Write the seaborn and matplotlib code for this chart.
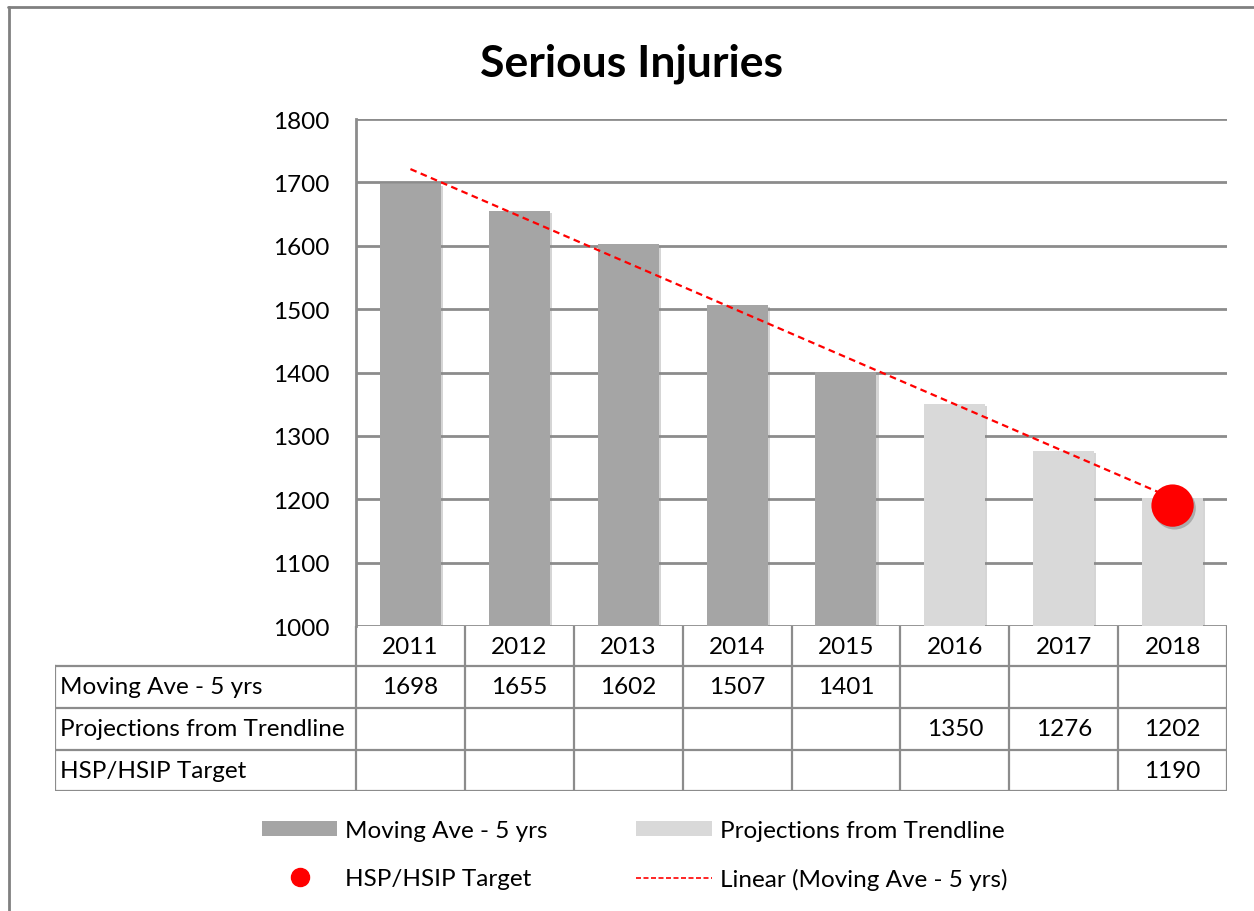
import numpy as np
import pandas as pd
import seaborn as sns
import matplotlib.pyplot as plt
import matplotlib.patheffects as pe
from matplotlib.patches import Patch
from matplotlib.lines import Line2D

# chart values
years = ['2011', '2012', '2013', '2014', '2015', '2016', '2017', '2018']
moving_ave = [1698, 1655, 1602, 1507, 1401]          # 2011-2015
projections = [1350, 1276, 1202]                     # 2016-2018
target_year = '2018'
target_value = 1190
y_ticks = [1000, 1100, 1200, 1300, 1400, 1500, 1600, 1700, 1800]

series_names = ['Moving Ave - 5 yrs', 'Projections from Trendline', 'HSP/HSIP Target']
dark_grey = '#A5A5A5'
light_grey = '#D9D9D9'
line_grey = '#8C8C8C'

sns.set_theme(style='white')
plt.rcParams['font.family'] = ['Lato', 'DejaVu Sans']
plt.rcParams['text.color'] = 'black'
plt.rcParams['ytick.color'] = 'black'

df = pd.DataFrame({
    'year': years,
    'value': moving_ave + projections,
    'series': [series_names[0]] * len(moving_ave) + [series_names[1]] * len(projections),
})

W, H = 1254, 912
fs = 17.5
fig = plt.figure(figsize=(W / 100, H / 100), dpi=100)

# main plot area
ax = fig.add_axes([356 / W, 1 - 627 / H, (1227 - 356) / W, (627 - 120) / H])
sns.barplot(data=df, x='year', y='value', hue='series', dodge=False, width=0.56,
            palette=[dark_grey, light_grey], order=years, legend=False, ax=ax, zorder=2,
            linewidth=0, edgecolor='none')
for p in ax.patches:
    p.set_linewidth(0)
    p.set_path_effects([pe.SimplePatchShadow(offset=(1.5, -1.5), shadow_rgbFace='#888888', alpha=0.35),
                        pe.Normal()])

# linear trendline through the moving average, projected to 2018
pos = np.arange(len(years))
coef = np.polyfit(pos[:len(moving_ave)], moving_ave, 1)
trend = pd.DataFrame({'x': pos, 'y': np.polyval(coef, pos)})
sns.lineplot(data=trend, x='x', y='y', color='red', linewidth=1.6, linestyle=(0, (3, 2)),
             ax=ax, zorder=4)

# target point
tx = years.index(target_year)
sns.scatterplot(x=[tx], y=[target_value], s=42 ** 2 / 1.9, color='red', edgecolor='none',
                ax=ax, zorder=5,
                path_effects=[pe.SimplePatchShadow(offset=(1.5, -2), shadow_rgbFace='#666666', alpha=0.4),
                              pe.Normal()])

ax.set_ylim(y_ticks[0], y_ticks[-1])
ax.set_xlim(-0.5, len(years) - 0.5)
ax.set_yticks(y_ticks)
ax.set_yticklabels([str(t) for t in y_ticks], fontsize=fs, color='black')
ax.tick_params(axis='y', length=0, pad=19)
ax.set_xticks([])
ax.set_xlabel('')
ax.set_ylabel('')
ax.yaxis.grid(True, color=line_grey, linewidth=2, zorder=0)
ax.set_axisbelow(True)
for s in ['top', 'right', 'bottom']:
    ax.spines[s].set_visible(False)
ax.spines['left'].set_color(line_grey)
ax.spines['left'].set_linewidth(2)

# data table under the plot
col_w = (1227 - 356) / len(years)
hdr_w = (356 - 55) / col_w
tab = fig.add_axes([55 / W, 1 - 792 / H, (1227 - 55) / W, (792 - 627) / H])
x0 = -0.5 - hdr_w
x1 = len(years) - 0.5
tab.set_xlim(x0, x1)
tab.set_ylim(165, 0)
tab.axis('off')
rows = [0, 40, 82, 124, 165]
lk = dict(color=line_grey, linewidth=1.6, solid_capstyle='projecting')
for r in rows[1:]:
    tab.plot([x0, x1], [r, r], **lk)
tab.plot([x0, x0], [rows[1], rows[-1]], **lk)
for i in range(len(years) + 1):
    tab.plot([i - 0.5, i - 0.5], [rows[0], rows[-1]], **lk)

for i, y in enumerate(years):
    tab.text(i, (rows[0] + rows[1]) / 2, y, ha='center', va='center', fontsize=fs)
for j, name in enumerate(series_names):
    tab.text(x0 + 0.05, (rows[j + 1] + rows[j + 2]) / 2, name, ha='left', va='center', fontsize=fs)
for i, v in enumerate(moving_ave):
    tab.text(i, (rows[1] + rows[2]) / 2, str(v), ha='center', va='center', fontsize=fs)
for k, v in enumerate(projections):
    tab.text(len(moving_ave) + k, (rows[2] + rows[3]) / 2, str(v), ha='center', va='center', fontsize=fs)
tab.text(tx, (rows[3] + rows[4]) / 2, str(target_value), ha='center', va='center', fontsize=fs)

# title
fig.text(632 / W, 1 - 76 / H, 'Serious Injuries', ha='center', va='baseline',
         fontsize=32, fontweight='bold')

# legend
handles = [
    Patch(facecolor=dark_grey, edgecolor='none'),
    Line2D([], [], marker='o', linestyle='none', color='red', markersize=13),
    Patch(facecolor=light_grey, edgecolor='none'),
    Line2D([], [], color='red', linestyle=(0, (3, 1.5)), linewidth=1.2),
]
labels = [series_names[0], series_names[2], series_names[1], 'Linear (Moving Ave - 5 yrs)']
fig.legend(handles, labels, ncol=2, loc='upper left', bbox_to_anchor=(240 / W, 1 - 799 / H),
           frameon=False, fontsize=fs, handlelength=3.1, handleheight=0.55, handletextpad=0.33,
           columnspacing=3.65, labelspacing=1.12)

# outer chart border (top and left visible)
fig.add_artist(Line2D([9 / W, 9 / W], [0, 1 - 8 / H], color='#808080', linewidth=2))
fig.add_artist(Line2D([8 / W, 1], [1 - 8 / H, 1 - 8 / H], color='#808080', linewidth=2))

fig.savefig('out.png', dpi=100, facecolor='white')
